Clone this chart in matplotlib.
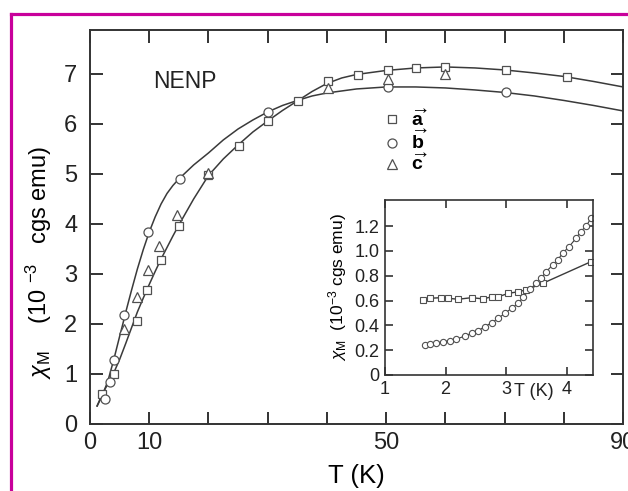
import numpy as np
import matplotlib.pyplot as plt
from matplotlib.lines import Line2D

plt.rcParams['font.family'] = ['Liberation Sans', 'DejaVu Sans']
plt.rcParams['mathtext.fontset'] = 'custom'
plt.rcParams['mathtext.rm'] = 'Liberation Sans'
plt.rcParams['mathtext.it'] = 'Liberation Sans:italic'
plt.rcParams['mathtext.bf'] = 'Liberation Sans:bold'

# main panel, data points
T_a = [2.0, 4.1, 8.0, 9.7, 12.0, 15.1, 19.9, 25.1, 30.0, 35.1, 40.1, 45.2, 50.3, 55.1, 60.0, 70.3, 80.5]
chi_a = [0.60, 1.00, 2.06, 2.68, 3.28, 3.96, 4.98, 5.56, 6.06, 6.46, 6.86, 6.98, 7.08, 7.12, 7.14, 7.08, 6.94]
T_b = [2.5, 3.4, 4.1, 5.8, 9.8, 15.2, 30.0, 50.3, 70.3]
chi_b = [0.50, 0.84, 1.28, 2.18, 3.84, 4.90, 6.24, 6.74, 6.64]
T_c = [5.8, 8.0, 9.8, 11.7, 14.7, 20.0, 40.1, 50.3, 60.0]
chi_c = [1.90, 2.54, 3.08, 3.56, 4.18, 5.02, 6.72, 6.90, 7.00]

# fitted curves
Tfit_a = [1.2, 2, 3, 4, 5, 6, 7, 8, 9, 10, 11, 12, 13, 14, 15, 17.5, 20, 22.5, 25, 27.5, 30,
          32.5, 35, 37.5, 40, 42.5, 45, 50, 55, 60, 65, 70, 75, 80, 85, 90]
fit_a = [0.36, 0.58, 0.80, 1.02, 1.29, 1.60, 1.92, 2.24, 2.52, 2.79, 3.05, 3.30, 3.53, 3.76, 3.98,
         4.50, 4.97, 5.30, 5.58, 5.84, 6.06, 6.27, 6.46, 6.65, 6.81, 6.92, 6.99, 7.07, 7.12, 7.14,
         7.12, 7.08, 7.02, 6.95, 6.85, 6.74]
Tfit_b = [1.2, 2, 3, 4, 5, 5.5, 6, 7, 8, 9, 10, 11, 12, 13, 14, 15, 17.5, 20, 22.5, 25, 27.5, 30,
          32.5, 35, 37.5, 40, 45, 50, 55, 60, 65, 70, 75, 80, 85, 90]
fit_b = [0.36, 0.55, 0.85, 1.28, 1.75, 1.98, 2.22, 2.67, 3.10, 3.49, 3.84, 4.14, 4.40, 4.61, 4.77,
         4.90, 5.18, 5.42, 5.68, 5.90, 6.08, 6.24, 6.37, 6.47, 6.56, 6.62, 6.70, 6.74, 6.74, 6.72,
         6.68, 6.63, 6.56, 6.47, 6.37, 6.26]

# inset
Ti_a = [1.63, 1.74, 1.93, 2.04, 2.21, 2.43, 2.62, 2.76, 2.87, 3.03, 3.19, 3.33, 3.61, 4.40]
chii_a = [0.605, 0.618, 0.623, 0.618, 0.610, 0.623, 0.613, 0.630, 0.630, 0.657, 0.670, 0.685, 0.740, 0.913]
Ti_b = [1.66, 1.74, 1.85, 1.96, 2.07, 2.18, 2.32, 2.43, 2.54, 2.65, 2.76, 2.87, 2.98, 3.09,
        3.20, 3.28, 3.39, 3.50, 3.58, 3.66, 3.77, 3.85, 3.93, 4.04, 4.15, 4.23, 4.32, 4.40]
chii_b = [0.242, 0.250, 0.260, 0.268, 0.277, 0.288, 0.315, 0.336, 0.357, 0.390, 0.420, 0.457, 0.497, 0.537,
          0.578, 0.626, 0.690, 0.740, 0.780, 0.833, 0.887, 0.927, 0.980, 1.035, 1.100, 1.155, 1.200, 1.263]

xticks = [0, 10, 20, 30, 40, 50, 60, 70, 80, 90]
xticklabels = ['0', '10', '', '', '', '50', '', '', '', '90']

lc = '#3a3a3a'
mc = '#505050'

fig = plt.figure(figsize=(6.28, 4.91), dpi=100)
ax = fig.add_axes([0.1433, 0.1365, 0.849, 0.8025])

ax.plot(Tfit_a, fit_a, '-', c=lc, lw=1.1)
ax.plot(Tfit_b, fit_b, '-', c=lc, lw=1.1)
ax.plot(T_a, chi_a, 's', ms=6, mfc='white', mec=mc, mew=0.9, label=r'$\overrightarrow{\mathbf{a}\,}$')
ax.plot(T_b, chi_b, 'o', ms=6.5, mfc='white', mec=mc, mew=0.9, label=r'$\overrightarrow{\mathbf{b}\,}$')
ax.plot(T_c, chi_c, '^', ms=6.5, mfc='white', mec=mc, mew=0.9, label=r'$\overrightarrow{\mathbf{c}\,}$')

ax.set_xlim(0, 90)
ax.set_ylim(0, 7.88)
ax.set_xticks(xticks)
ax.set_xticklabels(xticklabels)
ax.set_yticks(range(8))
ax.tick_params(direction='in', length=9, width=1.3, top=True, right=True, labelsize=17, colors='#222222')
ax.tick_params(axis='y', pad=9)
ax.tick_params(axis='x', pad=6)
for s in ax.spines.values():
    s.set_linewidth(1.4)
    s.set_color('#333333')
ax.set_xlabel('T (K)', fontsize=18.5, labelpad=7)
ax.set_ylabel(r'$\chi_{\rm M}$    (10 $^{-3}$   cgs emu)', fontsize=17)
ax.yaxis.set_label_coords(-0.068, 0.41)
ax.text(0.118, 0.868, 'NENP', transform=ax.transAxes, fontsize=16.5, va='center', color='#222222')

leg = ax.legend(loc='upper left', bbox_to_anchor=(0.53, 0.825), frameon=False, fontsize=14,
                handlelength=1.0, handletextpad=0.5, labelspacing=0.0, borderpad=0)

# inset
axi = fig.add_axes([0.613, 0.2363, 0.331, 0.3564])
axi.plot(Ti_a, chii_a, '-', c=lc, lw=1.0)
axi.plot(Ti_b, chii_b, '-', c=lc, lw=0.8)
axi.plot(Ti_a, chii_a, 's', ms=4.5, mfc='white', mec=mc, mew=0.8)
axi.plot(Ti_b, chii_b, 'o', ms=4.5, mfc='white', mec=mc, mew=0.8)
axi.set_xlim(1, 4.43)
axi.set_ylim(0, 1.41)
axi.set_xticks([1, 2, 3, 4])
axi.set_yticks([0, 0.2, 0.4, 0.6, 0.8, 1.0, 1.2])
axi.set_yticklabels(['0', '0.2', '0.4', '0.6', '0.8', '1.0', '1.2'])
axi.tick_params(direction='in', length=6, width=1.1, top=True, right=True, labelsize=13, pad=4, colors='#222222')
for s in axi.spines.values():
    s.set_linewidth(1.2)
    s.set_color('#333333')
axi.set_ylabel(r'$\chi_{\rm M}$  (10$^{-3}$ cgs emu)', fontsize=12.5, labelpad=4)
axi.text(0.62, -0.12, 'T (K)', transform=axi.transAxes, fontsize=13, color='#222222')

# magenta frame
y0 = 1 - 13.5 / 491
x0 = 10.5 / 628
fig.add_artist(Line2D([x0, x0], [0, y0], color='#c8009b', lw=2.3))
fig.add_artist(Line2D([x0, 1], [y0, y0], color='#c8009b', lw=2.3))

plt.savefig('out.png', dpi=100)
